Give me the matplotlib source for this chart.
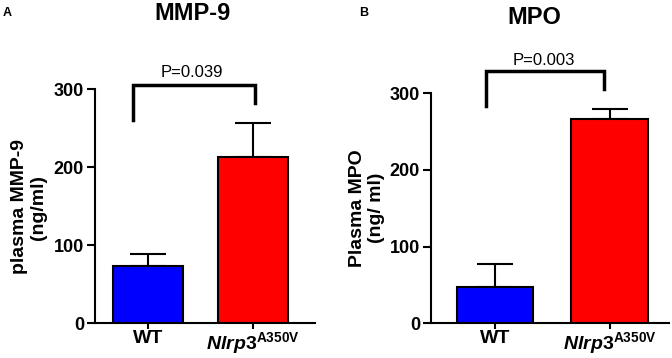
import matplotlib
matplotlib.use('Agg')
import matplotlib.pyplot as plt

plt.rcParams['font.family'] = ['Liberation Sans', 'DejaVu Sans']
plt.rcParams['mathtext.fontset'] = 'custom'
plt.rcParams['mathtext.it'] = 'Liberation Sans:italic:bold'
plt.rcParams['mathtext.rm'] = 'Liberation Sans:bold'
plt.rcParams['mathtext.bf'] = 'Liberation Sans:bold'

groups = ['WT', r'$\mathit{Nlrp3}^{\mathrm{A350V}}$']
colors = ['#0000ff', '#ff0000']

mmp_mean = [74, 213]
mmp_err = [15, 44]
mmp_p = 'P=0.039'

mpo_mean = [48, 267]
mpo_err = [29, 13]
mpo_p = 'P=0.003'


def panel(ax, mean, err, xlim, bracket, ptext, ppos):
    x = [0, 1]
    ax.bar(x, mean, width=0.67, color=colors, edgecolor='black', linewidth=1.5,
           zorder=2)
    ax.errorbar(x, mean, yerr=[[0, 0], err], fmt='none', ecolor='black',
                elinewidth=1.5, capsize=13, capthick=1.5, zorder=1)
    ax.set_xlim(*xlim)
    ax.set_ylim(0, 300)
    ax.set_yticks([0, 100, 200, 300])
    ax.set_xticks(x)
    ax.set_xticklabels(groups, fontsize=14, fontweight='bold')
    for lab in ax.get_yticklabels():
        lab.set_fontweight('bold')
        lab.set_fontsize(13)
    ax.spines['top'].set_visible(False)
    ax.spines['right'].set_visible(False)
    ax.spines['left'].set_linewidth(1.5)
    ax.spines['bottom'].set_linewidth(1.5)
    ax.tick_params(axis='y', length=6, width=1.5, pad=2)
    ax.tick_params(axis='x', length=4, width=1.5, pad=1)
    # significance bracket
    xl, xr, yl, yr, top = bracket
    ax.plot([xl, xl, xr, xr], [yl, top, top, yr], color='black', lw=2.5,
            clip_on=False, solid_joinstyle='miter')
    ax.text(ppos[0], ppos[1], ptext, ha='center', va='center', fontsize=12,
            clip_on=False)


fig = plt.figure(figsize=(6.72, 3.58), dpi=100)

axA = fig.add_axes([95 / 672, (358 - 323.3) / 358, 220 / 672, 234 / 358])
panel(axA, mmp_mean, mmp_err, (-0.505, 1.59),
      (-0.146, 1.02, 261, 283, 305), mmp_p, (0.42, 321))

axB = fig.add_axes([431 / 672, (358 - 323.3) / 358, 238 / 672, 230 / 358])
panel(axB, mpo_mean, mpo_err, (-0.56, 1.52),
      (-0.08, 0.95, 283, 305, 329), mpo_p, (0.43, 343))

fig.text(29 / 672, 1 - 207 / 358, 'plasma MMP-9\n(ng/ml)', rotation=90,
         ha='center', va='center', fontsize=14, fontweight='bold',
         multialignment='center', linespacing=1.1)
fig.text(367 / 672, 1 - 208 / 358, 'Plasma MPO\n(ng/ ml)', rotation=90,
         ha='center', va='center', fontsize=14, fontweight='bold',
         multialignment='center', linespacing=1.1)

fig.text(193 / 672, 1 - 13 / 358, 'MMP-9', ha='center', va='center',
         fontsize=17, fontweight='bold')
fig.text(534 / 672, 1 - 18 / 358, 'MPO', ha='center', va='center',
         fontsize=17, fontweight='bold')
fig.text(3 / 672, 1 - 13 / 358, 'A', ha='left', va='center', fontsize=9,
         fontweight='bold')
fig.text(359 / 672, 1 - 13 / 358, 'B', ha='left', va='center', fontsize=9,
         fontweight='bold')

fig.savefig('out.png', dpi=100)
